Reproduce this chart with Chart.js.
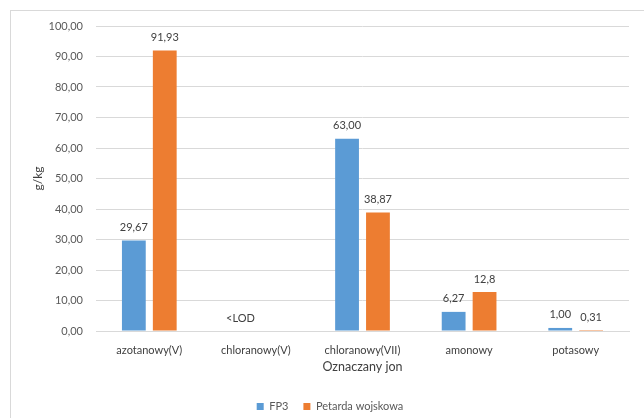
<!DOCTYPE html>
<html>
<head>
<meta charset="utf-8">
<script src="https://cdn.jsdelivr.net/npm/chart.js@4/dist/chart.umd.min.js"></script>
<style>
  html, body { margin: 0; padding: 0; background: #fff; overflow: hidden; }
  #frame { position: absolute; left: 10px; top: 10px; width: 640px; height: 420px; border: 1px solid #d9d9d9; box-sizing: border-box; }
  #wrap { position: absolute; left: 0; top: 0; width: 644px; height: 418px; }
</style>
</head>
<body>
<div id="frame"></div>
<div id="wrap"><canvas id="c" width="644" height="418"></canvas></div>
<script>
// Ions measured
const categories = ['azotanowy(V)', 'chloranowy(V)', 'chloranowy(VII)', 'amonowy', 'potasowy'];
// Content in g/kg
const fp3Values = [29.67, 0, 63.00, 6.27, 1.00];
const petardaValues = [91.93, null, 38.87, 12.8, 0.31];
// Text printed above each bar
const fp3Labels = ['29,67', '<LOD', '63,00', '6,27', '1,00'];
const petardaLabels = ['91,93', '', '38,87', '12,8', '0,31'];
const yTicks = [0, 10, 20, 30, 40, 50, 60, 70, 80, 90, 100];

const FONT = 'Lato, "Open Sans", sans-serif';

const barLabels = {
  id: 'barLabels',
  afterDatasetsDraw(chart) {
    const ctx = chart.ctx;
    const texts = [fp3Labels, petardaLabels];
    ctx.save();
    ctx.font = '11px ' + FONT;
    ctx.fillStyle = '#404040';
    ctx.textAlign = 'center';
    ctx.textBaseline = 'middle';
    chart.data.datasets.forEach((ds, di) => {
      const meta = chart.getDatasetMeta(di);
      meta.data.forEach((bar, i) => {
        const t = texts[di][i];
        if (!t) return;
        ctx.fillText(t, bar.x, bar.y - 13);
      });
    });
    ctx.restore();
  }
};

new Chart(document.getElementById('c'), {
  type: 'bar',
  data: {
    labels: categories,
    datasets: [
      { label: 'FP3', data: fp3Values, backgroundColor: '#5B9BD5' },
      { label: 'Petarda wojskowa', data: petardaValues, backgroundColor: '#ED7D31' }
    ]
  },
  options: {
    responsive: false,
    animation: false,
    devicePixelRatio: 1,
    layout: { padding: { left: 31, right: 15, top: 26, bottom: -4 } },
    datasets: { bar: { categoryPercentage: 0.58, barPercentage: 0.77 } },
    plugins: {
      tooltip: { enabled: false },
      legend: {
        position: 'bottom',
        title: { display: true, text: ' ', font: { family: FONT, size: 10 }, padding: 0 },
        labels: {
          font: { family: FONT, size: 11 },
          color: '#595959',
          boxWidth: 7,
          boxHeight: 7,
          padding: 15
        }
      }
    },
    scales: {
      x: {
        afterFit(scale) { scale.height = 43; },
        grid: { display: false, drawTicks: false },
        border: { color: '#d9d9d9' },
        ticks: { font: { family: FONT, size: 11 }, color: '#404040', padding: 13 },
        title: { display: true, text: 'Oznaczany jon', font: { family: FONT, size: 12.5 }, color: '#404040', padding: { top: 0, bottom: 0 } }
      },
      y: {
        min: 0, max: 100,
        afterBuildTicks(scale) { scale.ticks = yTicks.map(v => ({ value: v })); },
        afterFit(scale) { scale.width = 65; },
        grid: { color: '#d9d9d9', drawTicks: false },
        border: { display: false },
        ticks: {
          font: { family: FONT, size: 11 }, color: '#595959', padding: 13,
          callback: v => v.toFixed(2).replace('.', ',')
        },
        title: { display: true, text: 'g/kg', font: { family: FONT, size: 12 }, color: '#404040', padding: { top: 0, bottom: 0 } }
      }
    }
  },
  plugins: [barLabels]
});
</script>
</body>
</html>
